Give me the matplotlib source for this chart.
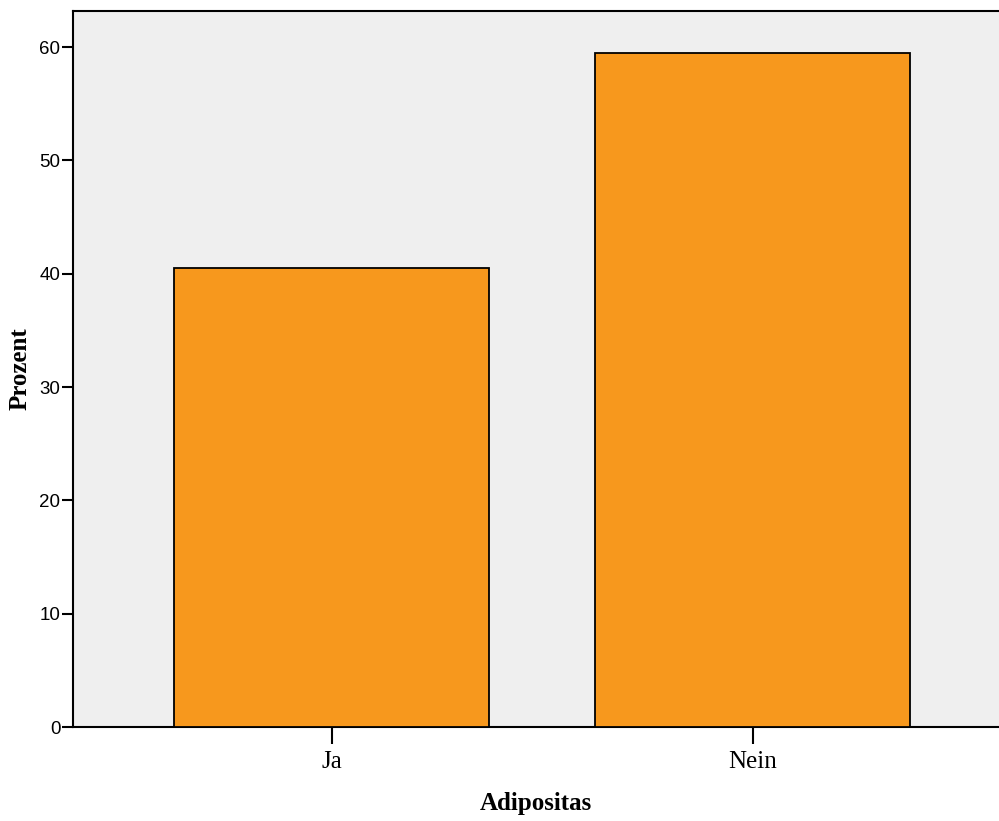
import matplotlib
matplotlib.use("Agg")
import matplotlib.pyplot as plt

categories = ["Ja", "Nein"]
percent = [40.5, 59.5]
y_ticks = [0, 10, 20, 30, 40, 50, 60]

bar_color = "#F7981D"
bg_color = "#EFEFEF"

fig = plt.figure(figsize=(9.99, 8.21), dpi=100)
ax = fig.add_axes([73 / 999, 1 - 727 / 821, 1 - 73 / 999, (727 - 11) / 821])
ax.set_facecolor(bg_color)

x = list(range(len(categories)))
ax.bar(x, percent, width=0.748, color=bar_color, edgecolor="black", linewidth=1.3, zorder=3)

ax.set_xlim(-0.614, 1.585)
ax.set_ylim(0, 63.18)
ax.set_yticks(y_ticks)
ax.set_yticklabels([str(t) for t in y_ticks], fontsize=13.5, family="Liberation Sans")
ax.set_xticks(x)
ax.set_xticklabels(categories, fontsize=18, family="Liberation Serif")

ax.tick_params(axis="y", length=8, width=1.5, pad=1)
ax.tick_params(axis="x", length=12, width=1.5, pad=5)

for side in ["left", "bottom", "top"]:
    ax.spines[side].set_linewidth(1.5)
ax.spines["right"].set_visible(False)

ax.set_xlabel("Adipositas", fontsize=18, family="Liberation Serif", fontweight="bold", labelpad=14)
ax.set_ylabel("Prozent", fontsize=18, family="Liberation Serif", fontweight="bold", labelpad=6)

fig.savefig("out.png", dpi=100)
